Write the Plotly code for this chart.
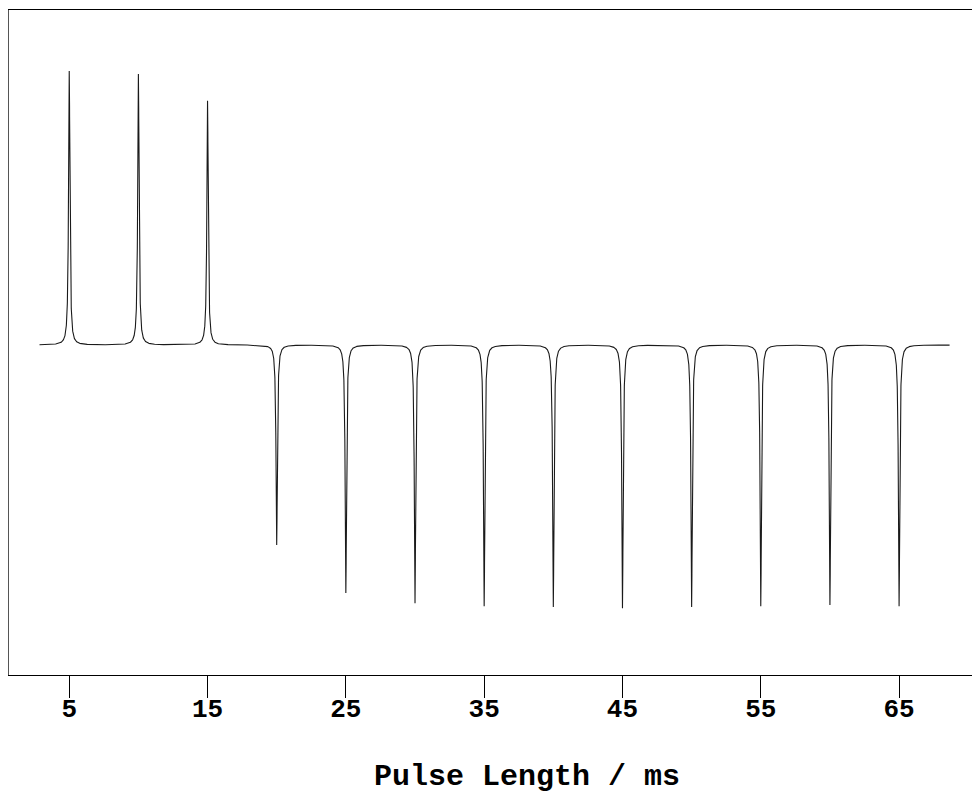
import numpy as np
import plotly.graph_objects as go

# Pulse lengths (ms) at which each spectrum was recorded (peak positions)
pulse_lengths = [5, 10, 15, 20, 25, 30, 35, 40, 45, 50, 55, 60, 65]
# Relative peak intensity (positive up, negative down)
peak_intensity = [1.000, 0.989, 0.891, -0.730, -0.905, -0.942, -0.953,
                  -0.956, -0.960, -0.956, -0.953, -0.949, -0.953]
tick_values = [5, 15, 25, 35, 45, 55, 65]
tick_labels = ["5", "15", "25", "35", "45", "55", "65"]

# trace extent (ms) and Lorentzian half width (ms) used to draw each line
trace_start, trace_end = 2.85, 68.65
half_width = 0.058

x = np.arange(trace_start, trace_end, 0.004)
x = np.unique(np.concatenate([x, np.array(pulse_lengths, dtype=float)]))
y = np.zeros_like(x)
for c, a in zip(pulse_lengths, peak_intensity):
    y += a / (1.0 + ((x - c) / half_width) ** 2)

fig = go.Figure()
fig.add_trace(go.Scatter(x=x, y=y, mode="lines",
                         line=dict(color="#1a1a1a", width=1.1),
                         hoverinfo="skip", showlegend=False))

font_family = "Courier New, Liberation Mono, monospace"

# page body has an 8 px margin: size the figure to fit inside the window
fig.update_layout(
    width=972, height=789,
    margin=dict(l=1, r=0, t=2, b=122),
    paper_bgcolor="white", plot_bgcolor="white",
    xaxis=dict(
        range=[0.645, 70.85],
        tickmode="array", tickvals=tick_values, ticktext=tick_labels,
        ticks="outside", ticklen=10, tickwidth=1.3, tickcolor="black",
        minor=dict(tickmode="array", tickvals=tick_values, ticks="outside",
                   ticklen=22, tickwidth=1.3, tickcolor="black", showgrid=False),
        showline=True, linecolor="black", linewidth=1, mirror=True,
        showgrid=False, zeroline=False,
        tickfont=dict(family=font_family, size=26, color="black", weight="bold"),
    ),
    yaxis=dict(
        range=[-1.2044, 1.2226],
        showticklabels=False, ticks="",
        showline=True, linecolor="#555555", linewidth=1, mirror=False,
        showgrid=False, zeroline=False,
    ),
    annotations=[dict(
        text="<b>Pulse Length / ms</b>", xref="paper", yref="paper",
        x=0.5334, y=-0.1534, xanchor="center", yanchor="middle",
        showarrow=False,
        font=dict(family=font_family, size=30, color="black"),
    )],
)

fig.write_html("out.html")
